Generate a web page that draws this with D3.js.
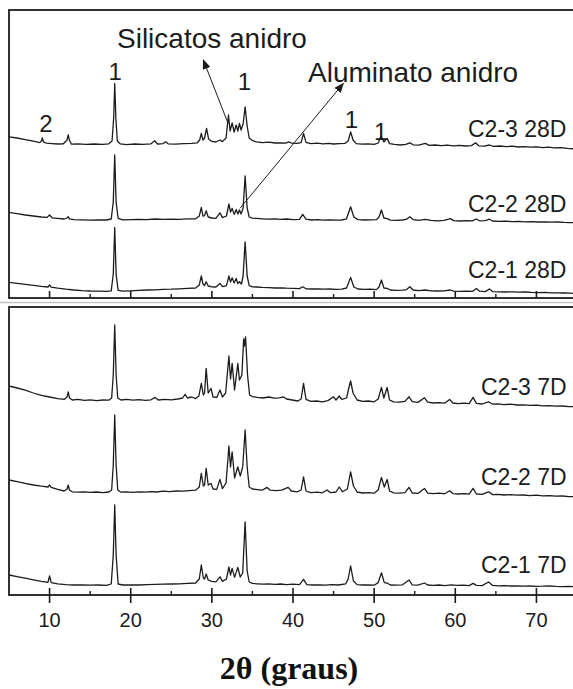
<!DOCTYPE html>
<html>
<head>
<meta charset="utf-8">
<script src="https://cdn.jsdelivr.net/npm/d3@7"></script>
<style>
  html, body { margin: 0; padding: 0; background: #fff; }
  svg { display: block; }
</style>
</head>
<body>
<svg id="chart" width="573" height="689"></svg>
<script>
// 2θ tick values
const majorTicks = [10, 20, 30, 40, 50, 60, 70];
const minorTicks = [15, 25, 35, 45, 55, 65];

// Stacked diffractograms, [2θ (deg), intensity (counts, incl. stacking offset)]
// 28-day samples
const c23_28d = [[5,806],[6,800],[7,792],[8,784],[8.8,777],[9.0,786],[9.1,801],[9.25,780],[9.6,774],[10.3,772],[11,770],[11.7,771],[12.15,790],[12.3,815],[12.45,788],[12.7,769],[13.5,771],[14.5,768],[15.5,770],[16.5,768],[17.3,771],[17.7,785],[17.9,900],[18.03,1073],[18.17,900],[18.35,785],[18.7,771],[19.5,767],[20.5,770],[21.5,768],[22.5,771],[22.95,786],[23.3,770],[24.0,772],[24.3,781],[24.6,771],[25.5,769],[26.5,772],[27.5,773],[28.2,776],[28.5,790],[28.7,823],[28.9,790],[29.1,800],[29.35,848],[29.6,795],[30.0,783],[30.5,780],[31.0,790],[31.3,782],[31.75,800],[32.05,915],[32.25,835],[32.5,875],[32.75,830],[33.0,865],[33.2,835],[33.4,873],[33.6,840],[33.85,870],[34.1,956],[34.35,860],[34.6,800],[35.0,787],[35.5,781],[36.2,777],[37.0,779],[37.8,775],[38.5,776],[39.1,774],[39.5,781],[39.8,774],[40.5,773],[41.0,777],[41.3,823],[41.6,778],[42.2,772],[43.0,774],[43.7,771],[44.4,773],[45.0,770],[45.7,772],[46.4,773],[46.8,785],[47.1,831],[47.4,790],[47.8,772],[48.5,769],[49.2,771],[50.0,768],[50.5,775],[50.85,810],[51.2,780],[51.6,798],[51.9,772],[52.5,768],[53.2,765],[53.9,768],[54.4,776],[54.8,766],[55.5,764],[56.3,773],[56.8,763],[57.5,765],[58.3,762],[59.0,764],[59.8,761],[60.5,763],[61.3,760],[62.0,762],[62.5,776],[62.9,761],[63.6,759],[64.2,765],[64.7,758],[65.5,760],[66.3,757],[67.0,759],[67.8,755],[68.5,757],[69.3,754],[70.0,756],[70.8,752],[71.5,754],[72.2,751],[73.0,752],[73.8,748],[75,745]];

const c22_28d = [[5,428],[6,422],[7,415],[8,410],[9,405],[9.7,403],[10.0,415],[10.3,401],[11,398],[11.8,395],[12.15,400],[12.3,406],[12.45,396],[13,392],[14,391],[15,389],[16,391],[17,390],[17.6,395],[17.85,480],[18.03,715],[18.2,480],[18.45,398],[19,391],[20,392],[21,393],[22,392],[23,395],[24,393],[25,394],[26,393],[27,396],[28,396],[28.45,410],[28.7,453],[28.9,410],[29.1,412],[29.3,436],[29.55,405],[30.0,400],[30.5,398],[31.0,426],[31.3,402],[31.8,410],[32.1,470],[32.3,430],[32.5,448],[32.75,418],[33.0,443],[33.2,420],[33.4,440],[33.6,420],[33.85,450],[34.1,610],[34.35,450],[34.6,405],[35,399],[35.5,398],[36.2,396],[37,394],[37.8,396],[38.5,393],[39.2,395],[40,392],[40.8,393],[41.2,418],[41.6,394],[42.3,390],[43,392],[43.8,389],[44.5,391],[45.3,389],[46,390],[46.6,396],[47.1,456],[47.5,405],[48,392],[48.8,390],[49.5,391],[50.3,392],[50.6,405],[50.9,440],[51.2,400],[51.6,397],[52,389],[52.7,388],[53.5,390],[54.0,394],[54.4,406],[54.8,392],[55.5,388],[56.3,393],[57,388],[57.8,386],[58.6,388],[59.4,397],[59.8,387],[60.6,385],[61.4,387],[62.1,386],[62.6,395],[63,386],[63.7,387],[64.2,394],[64.6,385],[65.4,383],[66.2,384],[67,382],[67.8,383],[68.6,381],[69.4,382],[70.2,380],[71,381],[71.8,379],[72.6,380],[73.4,378],[74.2,377],[75,376]];

const c21_28d = [[5,78],[6,73],[7,68],[8,63],[9,58],[9.8,55],[10.0,65],[10.2,54],[11,49],[12,44],[13,40],[14,37],[15,35],[16,34],[17,33],[17.6,36],[17.85,120],[18.03,353],[18.2,120],[18.45,38],[19,34],[20,36],[21,38],[22,40],[23,41],[24,43],[25,44],[26,46],[27,48],[28,50],[28.45,65],[28.7,111],[28.9,70],[29.1,62],[29.3,81],[29.55,60],[30,56],[30.5,55],[31,73],[31.3,57],[31.8,62],[32.1,110],[32.3,80],[32.5,101],[32.75,75],[33.0,98],[33.2,72],[33.4,81],[33.65,70],[33.85,110],[34.1,281],[34.35,110],[34.6,62],[35,56],[35.5,55],[36.2,53],[37,52],[37.8,50],[38.5,51],[39.2,49],[40,48],[40.8,47],[41.2,56],[41.6,46],[42.3,45],[43,46],[43.8,44],[44.5,45],[45.3,43],[46,44],[46.6,50],[47.1,103],[47.5,55],[48,45],[48.8,43],[49.5,44],[50.3,42],[50.6,55],[50.9,90],[51.2,50],[51.6,48],[52,40],[52.7,38],[53.5,39],[54.0,42],[54.4,56],[54.8,40],[55.5,37],[56.3,40],[57,36],[57.8,35],[58.6,36],[59.4,40],[59.8,34],[60.6,33],[61.4,34],[62.1,33],[62.6,48],[63,34],[63.7,32],[64.2,45],[64.6,32],[65.4,31],[66.2,30],[67,31],[67.8,29],[68.6,30],[69.4,28],[70.2,27],[71,28],[71.8,26],[72.6,26],[73.4,25],[74.2,24],[75,23]];

// 7-day samples
const c23_7d = [[5,1045],[6,1035],[7,1024],[8,1010],[9,998],[10,990],[11,982],[11.8,978],[12.15,990],[12.3,1016],[12.45,985],[12.8,975],[13.5,978],[14.3,973],[15,976],[15.8,972],[16.6,975],[17.3,974],[17.65,985],[17.85,1100],[18.03,1350],[18.2,1100],[18.4,985],[18.8,975],[19.5,978],[20.3,974],[21,977],[21.8,973],[22.5,976],[23.0,988],[23.4,975],[24.2,978],[25,976],[25.8,980],[26.4,985],[26.7,1003],[27.0,985],[27.5,990],[28,982],[28.4,995],[28.7,1058],[28.95,1000],[29.1,1010],[29.3,1133],[29.55,1010],[29.9,1033],[30.15,990],[30.6,988],[31.0,1025],[31.3,990],[31.7,1010],[32.1,1195],[32.3,1080],[32.5,1158],[32.8,1025],[33.2,1158],[33.4,1075],[33.7,1100],[33.92,1280],[34.02,1245],[34.15,1291],[34.4,1100],[34.65,1000],[35.0,992],[35.6,988],[36.3,985],[37.0,990],[37.7,984],[38.3,986],[38.8,991],[39.2,980],[39.9,975],[40.6,970],[41.0,980],[41.3,1058],[41.6,978],[42.2,968],[42.9,970],[43.6,966],[44.3,972],[45.0,991],[45.3,975],[45.7,995],[46.0,978],[46.6,985],[46.85,1030],[47.1,1070],[47.4,1010],[47.9,975],[48.6,968],[49.3,970],[50.0,966],[50.5,980],[50.9,1038],[51.2,985],[51.6,1038],[51.9,975],[52.4,966],[53.1,964],[53.8,968],[54.3,991],[54.7,967],[55.4,963],[56.2,986],[56.6,964],[57.3,960],[58,962],[58.7,959],[59.3,978],[59.7,960],[60.4,957],[61.1,959],[61.7,957],[62.2,988],[62.6,958],[63.3,955],[64.1,966],[64.6,954],[65.3,956],[66,952],[66.8,954],[67.6,950],[68.4,951],[69.2,948],[70,949],[70.8,946],[71.6,947],[72.4,944],[73.2,945],[74,942],[75,941]];

const c22_7d = [[5,575],[6,567],[7,558],[8,550],[9,544],[9.8,540],[10.0,550],[10.2,538],[11,528],[11.8,520],[12.15,530],[12.3,550],[12.45,525],[12.8,516],[13.5,514],[14.3,516],[15,513],[15.8,515],[16.6,512],[17.3,515],[17.65,525],[17.85,650],[18.03,900],[18.2,650],[18.4,525],[18.8,514],[19.5,516],[20.3,513],[21,516],[21.8,514],[22.5,517],[23.2,515],[24,519],[24.8,517],[25.6,520],[26.4,519],[27.2,522],[28,524],[28.45,540],[28.7,608],[28.95,545],[29.1,550],[29.3,633],[29.55,550],[29.9,558],[30.15,530],[30.6,528],[31.0,578],[31.3,532],[31.75,560],[32.1,745],[32.3,640],[32.5,716],[32.8,585],[33.2,641],[33.5,595],[33.8,640],[34.1,825],[34.35,640],[34.6,540],[35,530],[35.6,527],[36.2,524],[36.8,538],[37.2,524],[37.9,522],[38.6,524],[39.4,538],[39.8,520],[40.5,516],[41.0,525],[41.3,591],[41.6,520],[42.2,512],[43,514],[43.6,511],[44.2,525],[44.6,512],[45.3,515],[45.7,540],[46.1,516],[46.7,530],[47.1,616],[47.45,545],[47.9,515],[48.6,510],[49.3,512],[50.0,509],[50.5,525],[50.9,588],[51.25,540],[51.6,578],[51.9,520],[52.4,511],[53.1,509],[53.8,512],[54.3,538],[54.7,510],[55.4,508],[56.2,533],[56.6,509],[57.3,507],[58,509],[58.7,506],[59.3,521],[59.7,507],[60.4,505],[61.1,507],[61.7,504],[62.2,533],[62.6,505],[63.3,503],[64.1,516],[64.6,502],[65.3,503],[66,500],[66.8,502],[67.6,499],[68.4,500],[69.2,497],[70,499],[70.8,496],[71.6,497],[72.4,494],[73.2,495],[74,492],[75,491]];

const c21_7d = [[5,100],[6,92],[7,84],[8,76],[9,68],[9.8,63],[10.0,95],[10.2,62],[11,56],[12,52],[13,50],[14,51],[15,49],[16,50],[17,48],[17.6,55],[17.85,200],[18.03,450],[18.2,200],[18.45,55],[19,50],[20,51],[21,50],[22,52],[23,53],[24,54],[25,55],[26,56],[27,58],[28,60],[28.45,80],[28.7,150],[28.95,85],[29.1,80],[29.3,105],[29.55,75],[30,68],[30.5,66],[31.0,91],[31.3,68],[31.8,80],[32.1,141],[32.3,100],[32.5,133],[32.8,88],[33.2,138],[33.5,90],[33.8,110],[34.1,366],[34.35,120],[34.6,65],[35,58],[35.6,56],[36.3,54],[37,56],[37.8,53],[38.5,55],[39.2,52],[40,54],[40.8,52],[41.3,78],[41.7,52],[42.4,50],[43.2,51],[44,49],[44.8,52],[45.6,50],[46.5,56],[46.8,80],[47.1,145],[47.45,70],[47.9,52],[48.6,50],[49.3,51],[50,49],[50.5,62],[50.9,111],[51.25,62],[51.6,60],[52,50],[52.7,49],[53.5,51],[54.3,75],[54.7,51],[55.4,49],[56.2,60],[56.6,50],[57.3,48],[58,50],[58.7,47],[59.5,51],[60.2,48],[61,49],[61.7,47],[62.2,58],[62.6,48],[63.3,47],[64.1,65],[64.6,48],[65.3,46],[66,47],[66.8,45],[67.6,46],[68.4,44],[69.2,45],[70,43],[70.8,44],[71.6,46],[72.4,43],[73.2,42],[74,43],[75,41]];

const traceNames28 = ["C2-3 28D", "C2-2 28D", "C2-1 28D"];
const traceNames7 = ["C2-3 7D", "C2-2 7D", "C2-1 7D"];

// Phase markers in the 28-day panel: [2θ, counts, text]
const phaseMarks = [[9.55, 830, "2"], [18.1, 1090, "1"], [34.0, 1040, "1"], [47.2, 848, "1"], [50.8, 790, "1"]];

// Annotated arrows in the 28-day panel: tail [2θ, counts] -> head [2θ, counts]
const arrows = [
  { from: [32.0, 873], to: [28.95, 1190] },
  { from: [33.47, 448], to: [46.2, 1073] }
];

const svg = d3.select("#chart");
const W = 573, H = 689;
const ink = "#1c1c1c";
const sans = "'Liberation Sans', Arial, sans-serif";

const x = d3.scaleLinear().domain([5, 75]).range([9, 577]);

const panels = [
  { top: 10, bottom: 298, series: [c23_28d, c22_28d, c21_28d], names: traceNames28,
    labelX: 468, labelY: [136.7, 211.7, 278.3], showLabels: false },
  { top: 307, bottom: 595, series: [c23_7d, c22_7d, c21_7d], names: traceNames7,
    labelX: 481, labelY: [395, 485, 573.3], showLabels: true }
];

const defs = svg.append("defs");
defs.append("marker")
  .attr("id", "arrowhead")
  .attr("viewBox", "0 0 10 8")
  .attr("refX", 9).attr("refY", 4)
  .attr("markerWidth", 10).attr("markerHeight", 8)
  .attr("markerUnits", "userSpaceOnUse")
  .attr("orient", "auto")
  .append("path").attr("d", "M0,0 L10,4 L0,8 Z").attr("fill", ink);

svg.append("rect").attr("width", W).attr("height", H).attr("fill", "#fff");

// thin grey separator between the two panels
svg.append("line")
  .attr("x1", 0).attr("x2", W).attr("y1", 302.5).attr("y2", 302.5)
  .attr("stroke", "#c4c4c4").attr("stroke-width", 1.6);

panels.forEach((p, i) => {
  const y = d3.scaleLinear().domain([0, 1440]).range([p.bottom, p.top]);
  p.y = y;
  const g = svg.append("g");

  defs.append("clipPath").attr("id", "clip" + i)
    .append("rect").attr("x", x(5)).attr("y", p.top)
    .attr("width", x(75) - x(5)).attr("height", p.bottom - p.top);

  const line = d3.line().x(d => x(d[0])).y(d => y(d[1]));

  g.append("g").attr("clip-path", `url(#clip${i})`)
    .selectAll("path").data(p.series).join("path")
    .attr("d", line)
    .attr("fill", "none")
    .attr("stroke", ink)
    .attr("stroke-width", 1.3)
    .attr("stroke-linejoin", "round");

  // frame
  g.append("rect")
    .attr("x", x(5)).attr("y", p.top)
    .attr("width", x(75) - x(5)).attr("height", p.bottom - p.top)
    .attr("fill", "none").attr("stroke", ink).attr("stroke-width", 1.8);

  // bottom axis ticks
  const ax = g.append("g").attr("transform", `translate(0,${p.bottom})`);
  ax.selectAll("line.major").data(majorTicks).join("line")
    .attr("class", "major")
    .attr("x1", d => x(d)).attr("x2", d => x(d))
    .attr("y1", -7).attr("y2", p.showLabels ? 8 : 0)
    .attr("stroke", ink).attr("stroke-width", 1.6);
  ax.selectAll("line.minor").data(minorTicks).join("line")
    .attr("class", "minor")
    .attr("x1", d => x(d)).attr("x2", d => x(d))
    .attr("y1", -4).attr("y2", 0)
    .attr("stroke", ink).attr("stroke-width", 1.4);

  if (p.showLabels) {
    ax.selectAll("text").data(majorTicks).join("text")
      .attr("x", d => x(d)).attr("y", 32)
      .attr("text-anchor", "middle")
      .attr("font-family", sans).attr("font-size", 20)
      .attr("fill", ink)
      .text(d => d);
  }

  // sample names
  g.selectAll("text.name").data(p.names).join("text")
    .attr("class", "name")
    .attr("x", p.labelX).attr("y", (d, k) => p.labelY[k])
    .attr("font-family", sans).attr("font-size", 23)
    .attr("fill", ink)
    .text(d => d);
});

// phase markers and arrows on the 28-day panel
const yTop = panels[0].y;
svg.append("g").selectAll("text").data(phaseMarks).join("text")
  .attr("x", d => x(d[0])).attr("y", d => yTop(d[1]))
  .attr("text-anchor", "middle")
  .attr("font-family", sans).attr("font-size", 24)
  .attr("fill", ink)
  .text(d => d[2]);

svg.append("g").selectAll("line").data(arrows).join("line")
  .attr("x1", d => x(d.from[0])).attr("y1", d => yTop(d.from[1]))
  .attr("x2", d => x(d.to[0])).attr("y2", d => yTop(d.to[1]))
  .attr("stroke", ink).attr("stroke-width", 1)
  .attr("marker-end", "url(#arrowhead)");

svg.append("text")
  .attr("x", 117).attr("y", 48.3)
  .attr("font-family", sans).attr("font-size", 28).attr("fill", ink)
  .text("Silicatos anidro");
svg.append("text")
  .attr("x", 308).attr("y", 81.7)
  .attr("font-family", sans).attr("font-size", 28).attr("fill", ink)
  .text("Aluminato anidro");

// x-axis title
svg.append("text")
  .attr("x", 289).attr("y", 679)
  .attr("text-anchor", "middle")
  .attr("font-family", "'Liberation Serif', 'Times New Roman', serif")
  .attr("font-weight", "bold").attr("font-size", 32)
  .attr("fill", "#111")
  .text("2θ (graus)");
</script>
</body>
</html>
